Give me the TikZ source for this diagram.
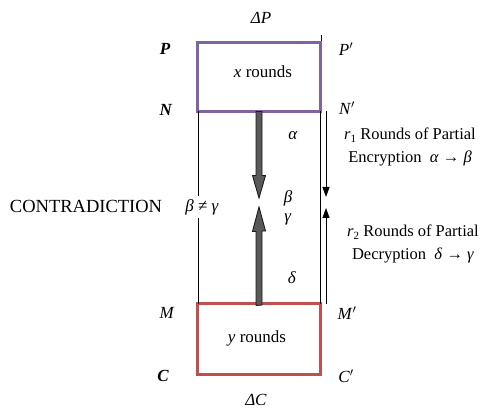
\documentclass[tikz,border=0pt]{standalone}
\usepackage{fontspec}
\setmainfont{Liberation Serif}
\usetikzlibrary{arrows.meta}
\definecolor{boxpurple}{HTML}{8064A2}
\definecolor{boxred}{HTML}{C0504D}
\begin{document}
\begin{tikzpicture}[x=1pt,y=-1pt,
  roundbox/.style={draw,line width=3pt,minimum width=123pt,inner sep=0pt,outer sep=0pt},
  lab/.style={inner sep=1pt,font=\fontsize{17}{20}\selectfont},
  side/.style={inner sep=1pt,align=center,font=\fontsize{16.5}{23}\selectfont},
  fatarrow/.style={fill=black!65,draw=black!90,line width=0.9pt,line join=miter},
  thinarrow/.style={line width=1pt,-{Triangle[length=10pt,width=7pt]}},
  thinline/.style={line width=1pt}]
\useasboundingbox (0,0) rectangle (485,409);

% boxes
\node[roundbox,draw=boxpurple,minimum height=69pt] (xbox) at (259,77) {};
\node[roundbox,draw=boxred,minimum height=71pt] (ybox) at (259,339) {};
\node[lab] (xtxt) at (263,72) {\textit{x} rounds};
\node[lab] (ytxt) at (257,338) {\textit{y} rounds};

% corner labels
\node[lab] (dP) at (261,18) {\textit{ΔP}};
\node[lab] (P) at (165,49) {\textbf{\textit{P}}};
\node[lab] (Pp) at (346,49) {\textit{P}$'$};
\node[lab] (N) at (166,110) {\textbf{\textit{N}}};
\node[lab] (Np) at (347,108) {\textit{N}$'$};
\node[lab] (M) at (167,313) {\textit{M}};
\node[lab] (Mp) at (347,313) {\textit{M}$'$};
\node[lab] (C) at (163,376) {\textbf{\textit{C}}};
\node[lab] (Cp) at (346,376) {\textit{C}$'$};
\node[lab] (dC) at (256,400) {\textit{ΔC}};

% greek labels
\node[lab] (alpha) at (293,136) {\textit{α}};
\node[lab] (beta) at (288,198) {\textit{β}};
\node[lab] (gamma) at (288,219) {\textit{γ}};
\node[lab] (delta) at (292,278) {\textit{δ}};

% contradiction
\node[inner sep=1pt,font=\fontsize{18.5}{20}\selectfont] (contra) at (86,206) {CONTRADICTION};
\node[lab,inner sep=3pt] (neq) at (202,207) {\textit{β} ≠ \textit{γ}};

% side texts
\node[side] (enc) at (410,147) {\textit{r}\raisebox{-0.35ex}{\fontsize{11}{12}\selectfont 1} Rounds of Partial\\Encryption\ \ \textit{α} → \textit{β}};
\node[side] (dec) at (413,244) {\textit{r}\raisebox{-0.35ex}{\fontsize{11}{12}\selectfont 2} Rounds of Partial\\Decryption\ \ \textit{δ} → \textit{γ}};

% thin vertical lines
\draw[thinline] (xbox.south west) ++(0.5,0) coordinate (lt) -- (lt |- neq.north);
\draw[thinline] (ybox.north west) ++(0.5,0) coordinate (lb) -- (lb |- neq.south);
\draw[thinline] (xbox.south east) ++(-0.5,0) coordinate (rt) -- (rt |- ybox.north);
\draw[thinline] (xbox.north east) ++(0.5,-1.5) coordinate (tk) -- ++(0,-6);

% thin side arrows
\coordinate (sdtip) at (326,197);
\coordinate (sutip) at (326,208);
\draw[thinarrow] (xbox.south east -| sdtip) -- (sdtip);
\draw[thinarrow] (ybox.north east -| sutip) -- (sutip);

% fat arrows
\coordinate (dtip) at (259,198);
\coordinate (utip) at (259,207);
\filldraw[fatarrow] (xbox.south) ++(-3,0) -- ++(0,64) -- ++(-3.5,0) -- (dtip)
   -- ++(6.5,-22.5) -- ++(-3.5,0) -- ++(0,-64) -- cycle;
\filldraw[fatarrow] (ybox.north) ++(-3,2) -- ++(0,-74) -- ++(-3.5,0) -- (utip)
   -- ++(6.5,24) -- ++(-3.5,0) -- ++(0,74) -- cycle;
\end{tikzpicture}
\end{document}
